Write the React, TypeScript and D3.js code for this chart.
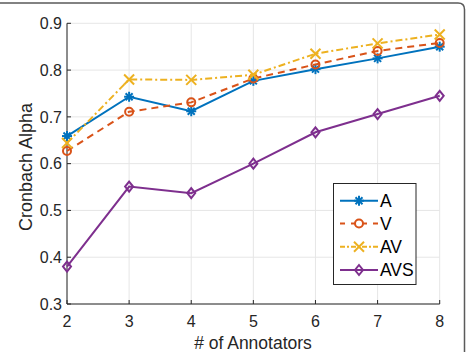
import React from "react";
import * as d3 from "d3";

const annotators = [2, 3, 4, 5, 6, 7, 8];
const seriesA = [0.659, 0.743, 0.712, 0.777, 0.802, 0.825, 0.85];
const seriesV = [0.627, 0.711, 0.731, 0.782, 0.812, 0.841, 0.858];
const seriesAV = [0.644, 0.78, 0.779, 0.79, 0.835, 0.857, 0.876];
const seriesAVS = [0.38, 0.551, 0.537, 0.6, 0.667, 0.706, 0.745];
const yTicks = [0.3, 0.4, 0.5, 0.6, 0.7, 0.8, 0.9];
const seriesNames = ["A", "V", "AV", "AVS"];

const W = 468;
const H = 352;
const FONT = "'Liberation Sans', Arial, Helvetica, sans-serif";

type Marker = "star" | "circle" | "x" | "diamond";

const styles: { color: string; dash: string; marker: Marker }[] = [
  { color: "#0072BD", dash: "", marker: "star" },
  { color: "#D95319", dash: "7,5", marker: "circle" },
  { color: "#EDB120", dash: "7,3,2,3", marker: "x" },
  { color: "#7E2F8E", dash: "", marker: "diamond" },
];

function MarkerShape({ type, x, y, color }: { type: Marker; x: number; y: number; color: string }) {
  const s = 5;
  if (type === "star") {
    return (
      <g stroke={color} strokeWidth={2} fill="none">
        <line x1={x - s} y1={y} x2={x + s} y2={y} />
        <line x1={x} y1={y - s} x2={x} y2={y + s} />
        <line x1={x - s * 0.7} y1={y - s * 0.7} x2={x + s * 0.7} y2={y + s * 0.7} />
        <line x1={x - s * 0.7} y1={y + s * 0.7} x2={x + s * 0.7} y2={y - s * 0.7} />
      </g>
    );
  }
  if (type === "circle") {
    return <circle cx={x} cy={y} r={4} stroke={color} strokeWidth={2} fill="none" />;
  }
  if (type === "x") {
    return (
      <g stroke={color} strokeWidth={2}>
        <line x1={x - s} y1={y - s} x2={x + s} y2={y + s} />
        <line x1={x - s} y1={y + s} x2={x + s} y2={y - s} />
      </g>
    );
  }
  return (
    <path
      d={`M${x},${y - 5}L${x + 4},${y}L${x},${y + 5}L${x - 4},${y}Z`}
      stroke={color}
      strokeWidth={2}
      fill="none"
    />
  );
}

export default function App() {
  const left = 67;
  const right = 439.7;
  const top = 23.3;
  const bottom = 304;
  const x = d3.scaleLinear().domain([2, 8]).range([left, right]);
  const y = d3.scaleLinear().domain([0.3, 0.9]).range([bottom, top]);
  const data = [seriesA, seriesV, seriesAV, seriesAVS];
  const line = d3
    .line<number>()
    .x((_, i) => x(annotators[i]))
    .y((d) => y(d));

  const legX = 333.5;
  const legY = 183.5;
  const legW = 82.5;
  const legH = 101;
  const entryY = [200.7, 223.5, 246.8, 270];

  return (
    <svg width={W} height={H} style={{ position: "absolute", left: 0, top: 0, background: "#fff" }}>
      <rect x={0} y={0} width={W} height={H} fill="#fff" />
      {/* outer frame */}
      <path d={`M0,3 H458 Q464.5,3 464.5,9.5 V352`} fill="none" stroke="#5a5a5a" strokeWidth={1.5} />
      {/* grid */}
      {annotators.map((t) => (
        <line key={"gx" + t} x1={x(t)} x2={x(t)} y1={top} y2={bottom} stroke="#e6e6e6" strokeWidth={1} />
      ))}
      {yTicks.map((t) => (
        <line key={"gy" + t} x1={left} x2={right} y1={y(t)} y2={y(t)} stroke="#e6e6e6" strokeWidth={1} />
      ))}
      {/* axes */}
      <line x1={left} x2={left} y1={top} y2={bottom} stroke="#262626" strokeWidth={1} />
      <line x1={left} x2={right} y1={bottom} y2={bottom} stroke="#262626" strokeWidth={1} />
      {annotators.map((t) => (
        <g key={"tx" + t}>
          <line x1={x(t)} x2={x(t)} y1={bottom} y2={bottom - 4} stroke="#262626" />
          <text x={x(t)} y={327} textAnchor="middle" fontFamily={FONT} fontSize={16} fill="#262626">
            {t}
          </text>
        </g>
      ))}
      {yTicks.map((t) => (
        <g key={"ty" + t}>
          <line x1={left} x2={left + 4} y1={y(t)} y2={y(t)} stroke="#262626" />
          <text x={62} y={y(t) + 5.8} textAnchor="end" fontFamily={FONT} fontSize={16} fill="#262626">
            {t.toFixed(1)}
          </text>
        </g>
      ))}
      <text x={253} y={349} textAnchor="middle" fontFamily={FONT} fontSize={17.5} fill="#262626">
        # of Annotators
      </text>
      <text
        transform={`translate(32,167) rotate(-90)`}
        textAnchor="middle"
        fontFamily={FONT}
        fontSize={18}
        fill="#262626"
      >
        Cronbach Alpha
      </text>
      {/* series */}
      {data.map((vals, si) => (
        <g key={"s" + si}>
          <path
            d={line(vals) || ""}
            fill="none"
            stroke={styles[si].color}
            strokeWidth={2}
            strokeDasharray={styles[si].dash}
          />
          {vals.map((v, i) => (
            <MarkerShape key={i} type={styles[si].marker} x={x(annotators[i])} y={y(v)} color={styles[si].color} />
          ))}
        </g>
      ))}
      {/* legend */}
      <rect x={legX} y={legY} width={legW} height={legH} fill="#fff" stroke="#262626" strokeWidth={1} />
      {seriesNames.map((n, i) => (
        <g key={"l" + n}>
          <line
            x1={340}
            x2={378}
            y1={entryY[i]}
            y2={entryY[i]}
            stroke={styles[i].color}
            strokeWidth={2}
            strokeDasharray={styles[i].dash ? (i === 1 ? "5,6" : "5,2,2,2") : ""}
          />
          <MarkerShape type={styles[i].marker} x={359} y={entryY[i]} color={styles[i].color} />
          <text x={380} y={entryY[i] + 6} fontFamily={FONT} fontSize={17.5} fill="#000">
            {n}
          </text>
        </g>
      ))}
    </svg>
  );
}
